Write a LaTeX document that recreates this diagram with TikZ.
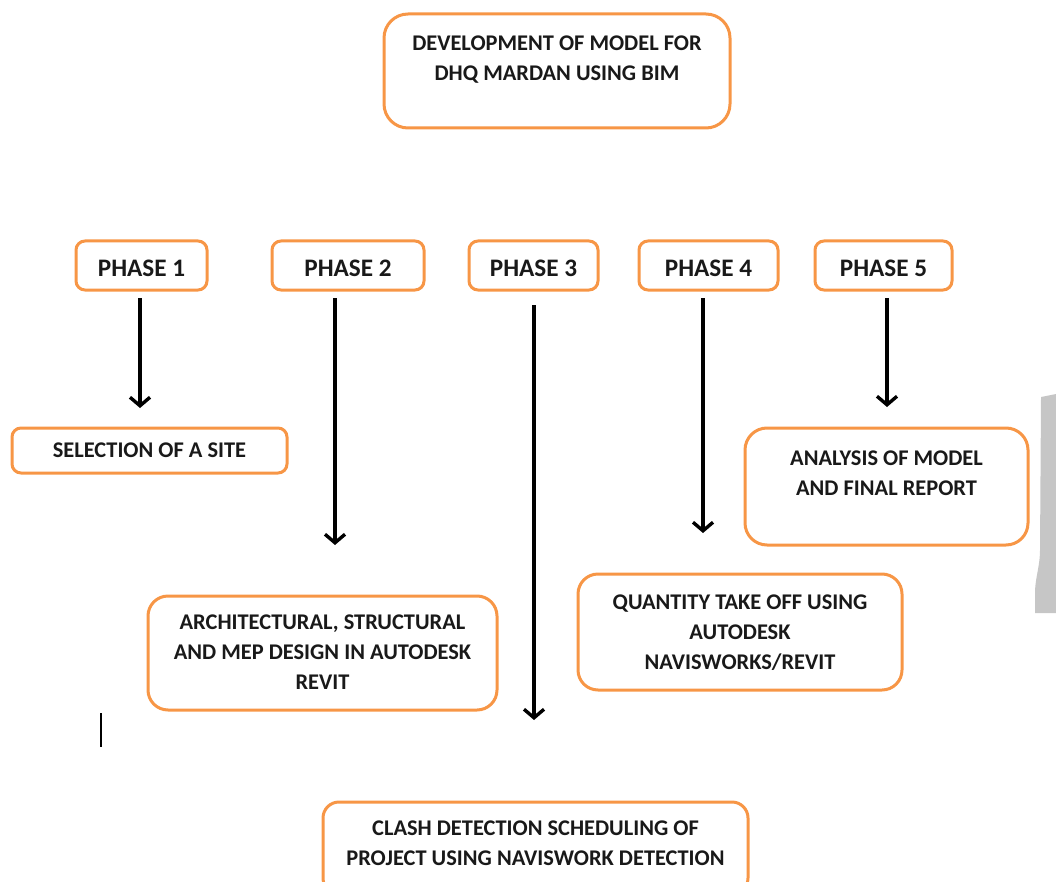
\documentclass[tikz,border=0pt]{standalone}
\usepackage{fontspec}
\setmainfont{Carlito}
\usetikzlibrary{arrows.meta}
\definecolor{boxorange}{HTML}{F79646}
\definecolor{wmgray}{HTML}{C6C6C6}
\tikzset{
  box/.style={draw=boxorange, line width=3pt, fill=white, inner sep=0pt},
  txt/.style={font=\bfseries\fontsize{22.4}{30}\selectfont, align=center, inner sep=0pt, text=black!90},
  phtxt/.style={font=\bfseries\fontsize{25.2}{30}\selectfont, inner sep=0pt, text=black!90},
  arr/.style={line width=3.4pt, -{Straight Barb[length=8.5pt,width=20pt,line width=3.4pt]}},
}
\begin{document}
\begin{tikzpicture}[x=1pt,y=-1pt]
\useasboundingbox (0,0) rectangle (1056,882);
\clip (0,0) rectangle (1056,882);
% watermark fragment at right edge
\fill[wmgray] (1041,397) -- (1056,394) -- (1056,613) -- (1035,613) -- (1035,590) .. controls (1036,575) and (1040,565) .. (1040,550) -- cycle;
% boxes
\node[box, rounded corners=24pt, minimum width=346pt, minimum height=114pt] (top) at (557,71) {};
\node[txt] (toptext) at (557,59.5) {DEVELOPMENT OF MODEL FOR\\DHQ MARDAN USING BIM};

\node[box, rounded corners=9pt, minimum width=131pt, minimum height=49pt] (p1) at (141.5,265.5) {};
\node[phtxt] at (141.5,268) {PHASE 1};
\node[box, rounded corners=9pt, minimum width=152pt, minimum height=49pt] (p2) at (348,265.5) {};
\node[phtxt] at (348,268) {PHASE 2};
\node[box, rounded corners=9pt, minimum width=129pt, minimum height=49pt] (p3) at (533.5,265.5) {};
\node[phtxt] at (533.5,268) {PHASE 3};
\node[box, rounded corners=9pt, minimum width=139pt, minimum height=49pt] (p4) at (708.5,265.5) {};
\node[phtxt] at (708.5,268) {PHASE 4};
\node[box, rounded corners=9pt, minimum width=137pt, minimum height=49pt] (p5) at (883.5,265.5) {};
\node[phtxt] at (883.5,268) {PHASE 5};

\node[box, rounded corners=9pt, minimum width=275pt, minimum height=45pt] (site) at (149.5,450.5) {};
\node[txt] at (149.5,450.5) {SELECTION OF A SITE};

\node[box, rounded corners=22pt, minimum width=283pt, minimum height=117pt] (analysis) at (886.5,486.5) {};
\node[txt] at (886.5,473.5) {ANALYSIS OF MODEL\\AND FINAL REPORT};

\node[box, rounded corners=20pt, minimum width=349pt, minimum height=114pt] (arch) at (322.5,653) {};
\node[txt] at (322.5,652) {ARCHITECTURAL, STRUCTURAL\\AND MEP DESIGN IN AUTODESK\\REVIT};

\node[box, rounded corners=20pt, minimum width=324pt, minimum height=116pt] (qty) at (740,632) {};
\node[txt] at (740,632.5) {QUANTITY TAKE OFF USING\\AUTODESK\\NAVISWORKS/REVIT};

\node[box, rounded corners=16pt, minimum width=425pt, minimum height=92pt] (clash) at (535.5,848) {};
\node[txt] at (535.5,843.5) {CLASH DETECTION SCHEDULING OF\\PROJECT USING NAVISWORK DETECTION};

% arrows
\coordinate (a1s) at (140,298); \coordinate (a1e) at (140,408);
\coordinate (a2s) at (335,298); \coordinate (a2e) at (335,545);
\coordinate (a3s) at (534,305); \coordinate (a3e) at (534,720);
\coordinate (a4s) at (703,298); \coordinate (a4e) at (703,533);
\coordinate (a5s) at (887,298); \coordinate (a5e) at (887,407);
\draw[arr] (a1s) -- (a1e);
\draw[arr] (a2s) -- (a2e);
\draw[arr] (a3s) -- (a3e);
\draw[arr] (a4s) -- (a4e);
\draw[arr] (a5s) -- (a5e);

% text cursor mark
\coordinate (c1) at (101,713); \coordinate (c2) at (101,747);
\draw[line width=2pt] (c1) -- (c2);
\end{tikzpicture}
\end{document}
